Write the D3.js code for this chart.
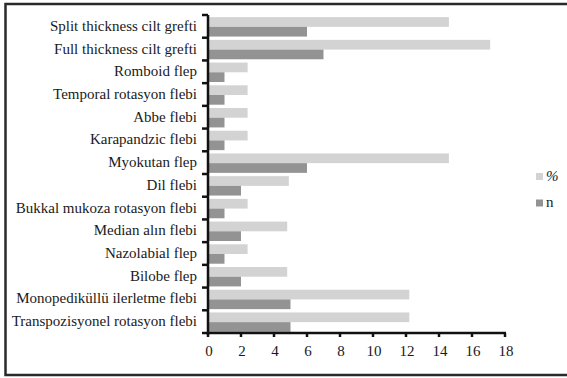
<!DOCTYPE html>
<html><head><meta charset="utf-8">
<script src="https://cdn.jsdelivr.net/npm/d3@7"></script>
<style>
html,body{margin:0;padding:0;background:#fff;}
svg{display:block;}
text{font-family:"Liberation Serif","DejaVu Serif",serif;fill:#1a1a1a;}
</style></head>
<body><svg id="c" width="567" height="378"></svg>
<script>
const categories = ["Split thickness cilt grefti","Full thickness cilt grefti","Romboid flep","Temporal rotasyon flebi","Abbe flebi","Karapandzic flebi","Myokutan flep","Dil flebi","Bukkal mukoza rotasyon flebi","Median alın flebi","Nazolabial flep","Bilobe flep","Monopediküllü ilerletme flebi","Transpozisyonel rotasyon flebi"];
const percentValues = [14.6,17.1,2.4,2.4,2.4,2.4,14.6,4.9,2.4,4.8,2.4,4.8,12.2,12.2];
const nValues = [6,7,1,1,1,1,6,2,1,2,1,2,5,5];
const xTicks = [0,2,4,6,8,10,12,14,16,18];
const seriesNames = ["%","n"];
const colors = ["#d3d3d3","#939393"];

const svg = d3.select("#c");
// outer frame
svg.append("rect").attr("x",5.5).attr("y",4).attr("width",600).attr("height",371)
  .attr("fill","none").attr("stroke","#2a2a2a").attr("stroke-width",2.5);

const pL = 208, pR = 505, pT = 15, pB = 333;
const x = d3.scaleLinear().domain([0,18]).range([pL,pR]);
const y = d3.scaleBand().domain(categories).range([pT,pB]).paddingInner(0).paddingOuter(0);
const inner = d3.scaleBand().domain(seriesNames).range([0,y.bandwidth()]).paddingInner(0).paddingOuter(0.17);

const rows = categories.map((c,i)=>({c, vals:[percentValues[i], nValues[i]]}));
const g = svg.append("g");
rows.forEach(r=>{
  seriesNames.forEach((s,j)=>{
    g.append("rect")
      .attr("x", x(0))
      .attr("y", y(r.c) + inner(s) + 0.5)
      .attr("width", x(r.vals[j]) - x(0))
      .attr("height", inner.bandwidth())
      .attr("fill", colors[j]);
  });
});

// y axis
const ya = svg.append("g");
ya.append("line").attr("x1",pL).attr("x2",pL).attr("y1",pT).attr("y2",pB+2)
  .attr("stroke","#111").attr("stroke-width",2.5);
const bounds = categories.map(c=>y(c)).concat([pB]);
bounds.forEach(b=>{
  ya.append("line").attr("x1",pL-6).attr("x2",pL).attr("y1",b).attr("y2",b)
    .attr("stroke","#111").attr("stroke-width",2.5);
});
categories.forEach(c=>{
  ya.append("text").attr("x",197).attr("y",y(c)+y.bandwidth()/2+4.5)
    .attr("text-anchor","end").attr("font-size",15).text(c);
});

// x axis
const xa = svg.append("g");
xa.append("line").attr("x1",pL-1).attr("x2",pR+1).attr("y1",pB).attr("y2",pB)
  .attr("stroke","#111").attr("stroke-width",2.5);
xTicks.forEach(t=>{
  xa.append("line").attr("x1",x(t)).attr("x2",x(t)).attr("y1",pB).attr("y2",pB+4)
    .attr("stroke","#111").attr("stroke-width",2.5);
  xa.append("text").attr("x",x(t)+1).attr("y",356).attr("text-anchor","middle")
    .attr("font-size",15).text(t);
});

// legend
const leg = svg.append("g");
[[173,"%"],[199.5,"n"]].forEach((d,i)=>{
  leg.append("rect").attr("x",536).attr("y",d[0]).attr("width",7).attr("height",7).attr("fill",colors[i]);
  leg.append("text").attr("x",546).attr("y",d[0]+7.5).attr("font-size",15)
    .attr("font-style", i===0?"italic":"normal").text(d[1]);
});
</script></body></html>
